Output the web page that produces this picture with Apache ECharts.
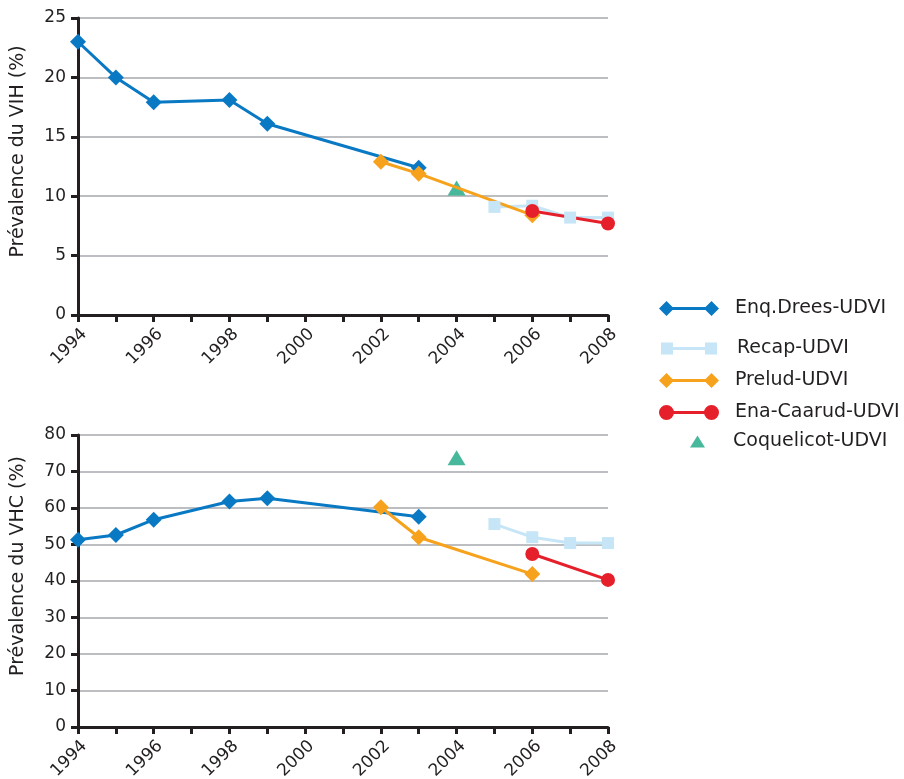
<!DOCTYPE html>
<html><head><meta charset="utf-8">
<script src="https://cdn.jsdelivr.net/npm/echarts@6/dist/echarts.min.js"></script>
<style>html,body{margin:0;padding:0;background:#fff}#c{width:904px;height:779px}</style>
</head><body><div id="c"></div>
<script>
// ---- data ----
const xMin = 1994, xMax = 2008;
const vihMax = 25, vihStep = 5;
const vhcMax = 80, vhcStep = 10;

const dreesYears = [1994, 1995, 1996, 1998, 1999, 2003];
const dreesVIH   = [23.0, 20.0, 17.9, 18.1, 16.1, 12.4];
const dreesVHC   = [51.3, 52.6, 56.8, 61.8, 62.7, 57.6];

const recapYears = [2005, 2006, 2007, 2008];
const recapVIH   = [9.1, 9.2, 8.2, 8.2];
const recapVHC   = [55.6, 52.0, 50.4, 50.4];

const preludYears = [2002, 2003, 2006];
const preludVIH   = [12.9, 11.9, 8.4];
const preludVHC   = [60.2, 52.0, 41.9];

const enaYears = [2006, 2008];
const enaVIH   = [8.75, 7.7];
const enaVHC   = [47.4, 40.3];

const coqYears = [2004];
const coqVIH   = [10.7];
const coqVHC   = [73.8];

const names = ['Enq.Drees-UDVI', 'Recap-UDVI', 'Prelud-UDVI', 'Ena-Caarud-UDVI', 'Coquelicot-UDVI'];
const colors = ['#0a79c4', '#c6e6f7', '#f6a21d', '#e6202b', '#1aa683'];

// ---- helpers ----
const pairs = (xs, ys) => xs.map((x, i) => [x, ys[i]]);
const FONT = 'DejaVu Sans';
const INK = '#231f20';

function xAxis(gi) {
  return {
    type: 'value', gridIndex: gi, min: xMin, max: xMax, interval: 1,
    axisLine: { show: true, onZero: false, lineStyle: { color: INK, width: 3 } },
    axisTick: { show: true, length: 7, lineStyle: { color: INK, width: 3 } },
    axisLabel: { rotate: 45, margin: 10, fontSize: 17, color: INK, fontFamily: FONT,
      verticalAlign: 'top', lineHeight: 18,
      formatter: v => (v % 2 === 0 ? String(v) : '') },
    splitLine: { show: false }
  };
}
function yAxis(gi, max, step, name) {
  return {
    type: 'value', gridIndex: gi, min: 0, max: max, interval: step,
    name: name, nameLocation: 'middle', nameGap: 50,
    nameTextStyle: { fontSize: 19, color: INK, fontFamily: FONT, padding: [0, 0, 0, 30] },
    axisLine: { show: true, lineStyle: { color: INK, width: 3 } },
    axisTick: { show: true, length: 7, lineStyle: { color: INK, width: 3 } },
    axisLabel: { margin: 12, fontSize: 17, color: INK, fontFamily: FONT, padding: [0, 0, 6, 0] },
    splitLine: { show: true, lineStyle: { color: '#a7a9ac', width: 1.5 } }
  };
}
function lineSeries(idx, gi, xs, ys, symbol, size) {
  return {
    type: 'line', name: names[idx], xAxisIndex: gi, yAxisIndex: gi,
    data: pairs(xs, ys), symbol: symbol, symbolSize: size, showSymbol: true,
    color: colors[idx],
    lineStyle: { width: 3, color: colors[idx] },
    itemStyle: { color: colors[idx], borderWidth: 0 }
  };
}
function coqSeries(gi, xs, ys) {
  return {
    type: 'scatter', name: names[4], xAxisIndex: gi, yAxisIndex: gi,
    data: pairs(xs, ys), symbol: 'triangle', symbolSize: [18, 15],
    color: colors[4], itemStyle: { color: colors[4] }
  };
}

const iconDiamond = 'path://M0,7.5L7.5,0L15,7.5L7.5,15Z M7,6H53V9H7Z M45,7.5L52.5,0L60,7.5L52.5,15Z';
const iconSquare  = 'path://M0,0H12V12H0Z M6,4.5H50V7.5H6Z M44,0H56V12H44Z';
const iconCircle  = 'path://M0,7.5A7.5,7.5 0 1,1 15,7.5A7.5,7.5 0 1,1 0,7.5Z M7,6H53V9H7Z M45,7.5A7.5,7.5 0 1,1 60,7.5A7.5,7.5 0 1,1 45,7.5Z';

function legend(name, icon, left, top, w, h, pad) {
  return {
    data: [name], left: left, top: top, icon: icon, itemWidth: w, itemHeight: h,
    padding: 0, selectedMode: false, symbolKeepAspect: false,
    itemStyle: { borderWidth: 0 },
    textStyle: { fontSize: 19, color: INK, fontFamily: FONT, padding: [0, 0, 0, pad] }
  };
}

const chart = echarts.init(document.getElementById('c'), null, { renderer: 'canvas' });
chart.setOption({
  animation: false,
  backgroundColor: '#ffffff',
  textStyle: { fontFamily: FONT },
  grid: [
    { left: 78, top: 18, width: 530, height: 297, outerBoundsMode: 'none', containLabel: false },
    { left: 78, top: 435, width: 530, height: 292, outerBoundsMode: 'none', containLabel: false }
  ],
  xAxis: [xAxis(0), xAxis(1)],
  yAxis: [
    yAxis(0, vihMax, vihStep, 'Prévalence du VIH (%)'),
    yAxis(1, vhcMax, vhcStep, 'Prévalence du VHC (%)')
  ],
  legend: [
    legend(names[0], iconDiamond, 659, 299, 60, 15, 11),
    legend(names[1], iconSquare, 661, 339, 56, 12, 15),
    legend(names[2], iconDiamond, 659, 371, 60, 15, 11),
    legend(names[3], iconCircle, 659, 403, 60, 15, 11),
    legend(names[4], 'triangle', 690, 432, 15, 12, 23)
  ],
  series: [
    lineSeries(1, 0, recapYears, recapVIH, 'rect', 12),
    lineSeries(0, 0, dreesYears, dreesVIH, 'diamond', 16),
    lineSeries(2, 0, preludYears, preludVIH, 'diamond', 16),
    lineSeries(3, 0, enaYears, enaVIH, 'circle', 14),
    coqSeries(0, coqYears, coqVIH),
    lineSeries(1, 1, recapYears, recapVHC, 'rect', 12),
    lineSeries(0, 1, dreesYears, dreesVHC, 'diamond', 16),
    lineSeries(2, 1, preludYears, preludVHC, 'diamond', 16),
    lineSeries(3, 1, enaYears, enaVHC, 'circle', 14),
    coqSeries(1, coqYears, coqVHC)
  ]
});
</script>
</body></html>
